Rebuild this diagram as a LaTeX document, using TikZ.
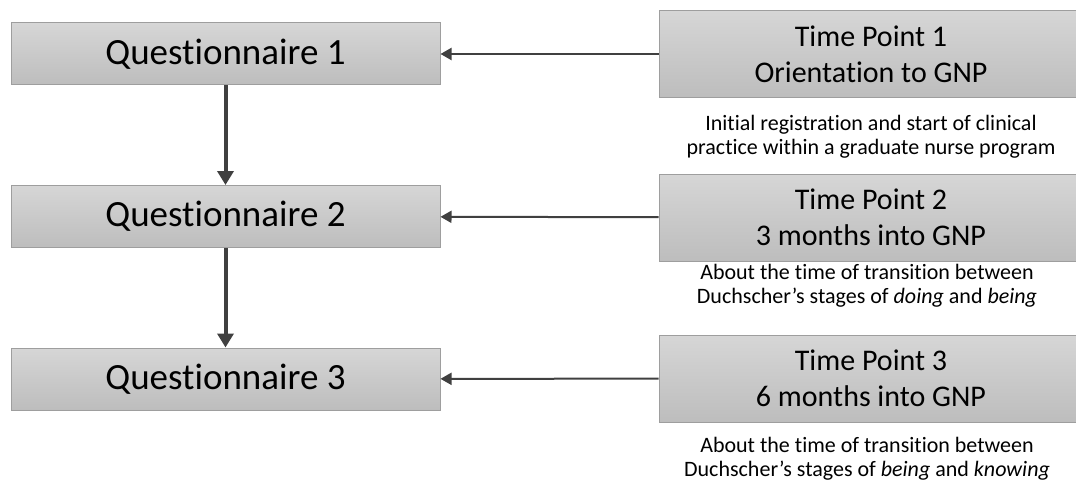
\documentclass[tikz,border=0pt]{standalone}
\usepackage{fontspec}
\setmainfont{Carlito}[RawFeature={-liga;-clig}]
\usetikzlibrary{arrows.meta,positioning}
\definecolor{BoxTop}{HTML}{D6D6D6}
\definecolor{BoxBot}{HTML}{BDBDBD}
\definecolor{BoxLine}{HTML}{9E9E9E}
\definecolor{ArrowDark}{HTML}{404040}
\tikzset{>=Stealth,qbox/.style={draw=BoxLine,line width=1pt,top color=BoxTop,
 bottom color=BoxBot,minimum width=429pt,minimum height=62pt,inner sep=0pt,
 font=\fontsize{37}{40}\selectfont},tbox/.style={draw=BoxLine,line width=1pt,
 top color=BoxTop,bottom color=BoxBot,minimum width=424pt,minimum height=87pt,
 inner sep=0pt,align=center,font=\fontsize{30}{36}\selectfont}}

\begin{document}
\begin{tikzpicture}[x=1pt,y=-1pt,
 note/.style={align=center,inner sep=0pt,font=\fontsize{22}{24}\selectfont},
 vflow/.style={draw=ArrowDark,line width=4pt,-{Triangle[length=14pt,width=16pt]}},
 hflow/.style={draw=ArrowDark,line width=2pt,-{Triangle[length=11pt,width=12pt]}}]
\useasboundingbox (0,0) rectangle (1076,484);
% Questionnaires on the left, time points on the right (cut by the page edge).
\node[qbox] (q1) at (225.5,54) {Questionnaire 1};
\node[qbox] (q2) at (225.5,216.5) {Questionnaire 2};
\node[qbox] (q3) at (225.5,379) {Questionnaire 3};
\node[tbox] (tp1) at (871,54) {Time Point 1\\Orientation to GNP};
\node[tbox] (tp2) at (871,217.5) {Time Point 2\\3 months into GNP};
\node[tbox] (tp3) at (871,378.5) {Time Point 3\\6 months into GNP};
\node[note] (d1) at (871,137)
 {Initial registration and start of clinical\\practice within a graduate nurse program};
\node[note] (d2) at (867,286)
 {About the time of transition between\\Duchscher’s stages of \textit{doing} and \textit{being}};
\node[note] (d3) at (867,459)
 {About the time of transition between\\Duchscher’s stages of \textit{being} and \textit{knowing}};
\draw[vflow] (q1) -- (q2);
\draw[vflow] (q2) -- (q3);
\draw[hflow] (tp1) -- (q1);
\draw[hflow] (tp2) -- (q2);
\draw[hflow] (tp3) -- (q3);
\end{tikzpicture}
\end{document}
